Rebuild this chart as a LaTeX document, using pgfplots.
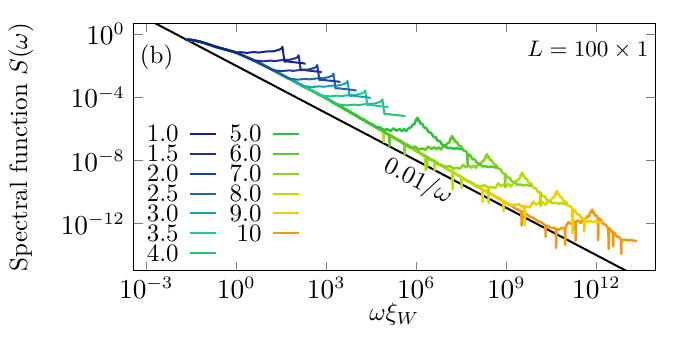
\documentclass[border=0pt]{standalone}
\usepackage{pgfplots}
\pgfplotsset{compat=1.18}

\definecolor{w10}{RGB}{22,32,140}
\definecolor{w15}{RGB}{28,48,152}
\definecolor{w20}{RGB}{30,62,160}
\definecolor{w25}{RGB}{30,104,172}
\definecolor{w30}{RGB}{26,162,184}
\definecolor{w35}{RGB}{30,200,160}
\definecolor{w40}{RGB}{34,196,118}
\definecolor{w50}{RGB}{46,192,64}
\definecolor{w60}{RGB}{88,204,32}
\definecolor{w70}{RGB}{136,212,32}
\definecolor{w80}{RGB}{184,220,16}
\definecolor{w90}{RGB}{240,208,0}
\definecolor{w100}{RGB}{245,152,16}

\begin{document}
\begin{tikzpicture}
\begin{axis}[
    scale only axis,
    width=208.8pt, height=99.2pt,
    xmin=-3.416, xmax=13.955,
    ymin=-15, ymax=0.70,
    xtick={-3,0,3,6,9,12},
    xticklabels={$10^{-3}$,$10^{0}$,$10^{3}$,$10^{6}$,$10^{9}$,$10^{12}$},
    ytick={-12,-8,-4,0},
    yticklabels={$10^{-12}$,$10^{-8}$,$10^{-4}$,$10^{0}$},
    ticklabel style={font=\fontsize{10.6}{12}\selectfont},
    xticklabel style={yshift=1pt},
    tick style={black!50, line width=0.5pt},
    major tick length=3.6pt,
    xlabel={$\omega\xi_W$},
    ylabel={Spectral function $S(\omega)$},
    xlabel style={at={(axis description cs:0.5,-0.175)}, anchor=center},
    ylabel style={at={(axis description cs:-0.2165,0.5)}, anchor=center},
    legend columns=2,
    legend plot pos=right,
    legend cell align=right,
    legend image code/.code={\path[draw=none,fill=none] (0pt,-1pt) rectangle (18.8pt,1pt);
      \draw[#1] (3.6pt,0pt) -- (14pt,0pt);},
    legend style={at={(axis description cs:0.006,0.617)}, anchor=north west,
      draw=none, fill=none, row sep=0pt, column sep=0pt,
      nodes={inner sep=0.8pt, text height=6.4pt, text depth=0pt}},
    every axis plot/.append style={line join=round},
]
% 0.01/omega
\addplot[black, line width=0.8pt, forget plot] coordinates {(-3.416,1.416) (13.955,-15.955)};

% W = 10
\addplot[w100, line width=1.0pt, forget plot] coordinates {
(-1.69,-0.33) (-1.45,-0.37) (-1.19,-0.48) (-0.95,-0.62) (-0.69,-0.79) (-0.35,-0.97) (0.00,-1.16)
(0.5,-1.58) (1.0,-2.05) (1.5,-2.55) (2.0,-3.05) (3.0,-4.05) (4.0,-5.165) (5.0,-6.28) (6.0,-7.395)
(7.0,-8.51) (8.0,-9.625) (8.6,-10.24) (9.0,-10.72) (9.15,-10.84) (9.3,-11.04) (9.5,-11.21) (9.51,-12.13)
(9.52,-11.25) (9.65,-11.37) (9.8,-11.57) (9.9,-11.64) (10.0,-11.78) (10.15,-11.91) (10.3,-12.11)
(10.31,-12.83) (10.32,-12.12) (10.36,-12.13) (10.48,-12.26) (10.61,-12.28) (10.65,-12.34) (10.66,-13.55)
(10.67,-12.34) (10.76,-12.38) (10.86,-12.26) (10.95,-12.32) (10.96,-13.35) (10.97,-12.26) (11.06,-11.92)
(11.16,-12.02) (11.26,-11.86) (11.30,-11.90) (11.31,-13.10) (11.32,-11.88) (11.41,-11.80) (11.48,-11.96)
(11.56,-11.78) (11.64,-11.74) (11.71,-11.52) (11.76,-11.54) (11.80,-11.28) (11.86,-11.11) (11.89,-11.34)
(11.91,-11.26) (11.96,-11.50) (12.01,-11.49) (12.05,-11.66) (12.06,-13.05) (12.07,-11.65) (12.16,-11.79)
(12.23,-12.02) (12.31,-12.07) (12.40,-12.30) (12.41,-13.60) (12.42,-12.30) (12.46,-12.34) (12.51,-12.52)
(12.55,-12.50) (12.56,-13.45) (12.57,-12.56) (12.61,-12.60) (12.68,-12.82) (12.76,-12.86) (12.82,-13.02)
(12.83,-13.92) (12.84,-13.00) (12.86,-13.04) (12.96,-13.02) (13.06,-13.07) (13.16,-13.04) (13.26,-13.09)
(13.36,-13.10)};

% W = 9
\addplot[w90, line width=1.0pt, forget plot] coordinates {
(-1.69,-0.33) (-1.45,-0.37) (-1.19,-0.48) (-0.95,-0.62) (-0.69,-0.79) (-0.35,-0.97) (0.00,-1.16)
(0.5,-1.58) (1.0,-2.05) (1.5,-2.55) (2.0,-3.05) (3.0,-4.05) (4.0,-5.16) (5.0,-6.27) (6.0,-7.38)
(7.0,-8.49) (7.5,-9.03) (7.7,-9.30) (7.9,-9.45) (8.05,-9.68) (8.2,-9.78) (8.21,-10.63) (8.22,-9.84)
(8.4,-10.00) (8.6,-10.27) (8.75,-10.36) (8.9,-10.58) (8.91,-11.23) (8.92,-10.55) (9.05,-10.74)
(9.19,-10.84) (9.31,-10.80) (9.44,-10.78) (9.52,-10.94) (9.60,-10.86) (9.61,-12.10) (9.62,-10.93)
(9.69,-10.92) (9.79,-10.98) (9.89,-10.60) (9.99,-10.80) (10.09,-10.65) (10.16,-10.80) (10.24,-10.65)
(10.31,-10.82) (10.39,-10.60) (10.47,-10.56) (10.54,-10.36) (10.59,-10.36) (10.63,-10.11) (10.69,-9.94)
(10.72,-10.16) (10.74,-10.09) (10.79,-10.32) (10.84,-10.32) (10.91,-10.58) (10.99,-10.62) (11.06,-10.88)
(11.14,-10.90) (11.20,-11.08) (11.21,-12.60) (11.22,-11.10) (11.29,-11.17) (11.36,-11.42) (11.44,-11.43)
(11.51,-11.68) (11.59,-11.69) (11.60,-12.50) (11.61,-11.72) (11.69,-11.87) (11.79,-11.84) (11.89,-11.90)
(11.99,-11.86) (12.09,-11.92) (12.19,-11.93)};

% W = 8
\addplot[w80, line width=1.0pt, forget plot] coordinates {
(-1.69,-0.33) (-1.45,-0.37) (-1.19,-0.48) (-0.95,-0.62) (-0.69,-0.79) (-0.35,-0.97) (0.00,-1.16)
(0.5,-1.58) (1.0,-2.05) (1.5,-2.55) (2.0,-3.05) (3.0,-4.05) (4.0,-5.155) (4.5,-5.71) (4.9,-6.15)
(4.91,-6.83) (4.92,-6.17) (5.5,-6.81) (6.0,-7.365) (6.15,-7.58) (6.3,-7.70) (6.31,-8.63) (6.32,-7.74)
(6.46,-7.94) (6.6,-8.03) (6.61,-8.63) (6.62,-8.08) (6.76,-8.28) (6.9,-8.36) (7.05,-8.58) (7.2,-8.69)
(7.21,-9.83) (7.22,-8.73) (7.36,-8.92) (7.5,-9.02) (7.51,-9.73) (7.52,-9.06) (7.66,-9.26) (7.8,-9.35)
(7.92,-9.54) (8.03,-9.61) (8.15,-9.62) (8.28,-9.58) (8.40,-9.72) (8.41,-10.70) (8.42,-9.69) (8.53,-9.70)
(8.63,-9.76) (8.73,-9.44) (8.83,-9.64) (8.93,-9.49) (9.00,-9.64) (9.08,-9.49) (9.15,-9.66) (9.23,-9.44)
(9.31,-9.40) (9.38,-9.20) (9.43,-9.20) (9.47,-8.95) (9.53,-8.78) (9.56,-9.00) (9.58,-8.93) (9.63,-9.16)
(9.68,-9.16) (9.75,-9.42) (9.83,-9.46) (9.90,-9.72) (9.98,-9.74) (10.05,-10.00) (10.13,-10.01)
(10.14,-10.90) (10.15,-10.04) (10.20,-10.26) (10.28,-10.27) (10.35,-10.52) (10.43,-10.53) (10.53,-10.71)
(10.63,-10.68) (10.73,-10.74) (10.83,-10.70) (10.93,-10.76) (11.03,-10.77)};

% W = 7
\addplot[w70, line width=1.0pt, forget plot] coordinates {
(-1.69,-0.33) (-1.45,-0.37) (-1.19,-0.48) (-0.95,-0.62) (-0.69,-0.79) (-0.35,-0.97) (0.00,-1.16)
(0.5,-1.58) (1.0,-2.05) (1.5,-2.55) (2.0,-3.05) (3.0,-4.05) (4.0,-5.15) (4.5,-5.70) (5.0,-6.25)
(5.15,-6.46) (5.3,-6.58) (5.45,-6.80) (5.6,-6.91) (5.61,-7.63) (5.62,-6.95) (5.76,-7.16) (5.9,-7.24)
(6.0,-7.42) (6.1,-7.46) (6.22,-7.66) (6.35,-7.735) (6.36,-8.48) (6.37,-7.78) (6.48,-7.94) (6.6,-8.01)
(6.73,-8.22) (6.86,-8.30) (6.98,-8.40) (7.11,-8.35) (7.24,-8.52) (7.36,-8.46) (7.46,-8.52) (7.56,-8.28)
(7.66,-8.44) (7.76,-8.32) (7.83,-8.46) (7.91,-8.32) (7.98,-8.46) (8.06,-8.28) (8.14,-8.22) (8.21,-8.04)
(8.26,-8.02) (8.30,-7.78) (8.36,-7.61) (8.39,-7.82) (8.41,-7.76) (8.46,-7.98) (8.51,-7.98) (8.58,-8.22)
(8.66,-8.28) (8.73,-8.52) (8.81,-8.56) (8.88,-8.80) (8.95,-8.84) (8.96,-9.70) (8.97,-8.86) (9.03,-9.06)
(9.11,-9.10) (9.18,-9.32) (9.26,-9.36) (9.36,-9.54) (9.46,-9.52) (9.56,-9.58) (9.66,-9.54) (9.76,-9.59)
(9.86,-9.60)};

% W = 6
\addplot[w60, line width=1.0pt, forget plot] coordinates {
(-1.69,-0.33) (-1.45,-0.37) (-1.19,-0.48) (-0.95,-0.62) (-0.69,-0.79) (-0.35,-0.97) (0.00,-1.16)
(0.5,-1.58) (1.0,-2.05) (1.5,-2.55) (2.0,-3.05) (2.5,-3.55) (3.0,-4.05) (3.5,-4.60) (4.0,-5.145)
(4.15,-5.36) (4.3,-5.47) (4.45,-5.68) (4.6,-5.80) (4.75,-6.02) (4.9,-6.13) (5.0,-6.30) (5.1,-6.35)
(5.11,-7.10) (5.12,-6.39) (5.28,-6.60) (5.45,-6.73) (5.58,-6.94) (5.70,-7.01) (5.82,-7.18) (5.95,-7.12)
(6.08,-7.30) (6.20,-7.24) (6.30,-7.32) (6.40,-7.12) (6.50,-7.28) (6.60,-7.16) (6.67,-7.30) (6.75,-7.16)
(6.82,-7.30) (6.90,-7.12) (6.98,-7.06) (7.05,-6.88) (7.10,-6.86) (7.14,-6.62) (7.20,-6.45) (7.23,-6.66)
(7.25,-6.60) (7.30,-6.82) (7.35,-6.82) (7.42,-7.06) (7.50,-7.12) (7.57,-7.36) (7.65,-7.40) (7.70,-7.55)
(7.71,-8.30) (7.72,-7.60) (7.80,-7.68) (7.87,-7.90) (7.95,-7.94) (8.02,-8.16) (8.10,-8.20) (8.20,-8.38)
(8.30,-8.36) (8.40,-8.42) (8.50,-8.38) (8.60,-8.43) (8.70,-8.44)};

% W = 5
\addplot[w50, line width=1.0pt, forget plot] coordinates {
(-1.69,-0.33) (-1.45,-0.37) (-1.19,-0.48) (-0.95,-0.62) (-0.69,-0.79) (-0.35,-0.97) (0.00,-1.16)
(0.5,-1.58) (1.0,-2.05) (1.5,-2.55) (2.0,-3.05) (2.25,-3.33) (2.5,-3.55) (2.75,-3.83) (3.0,-4.05)
(3.25,-4.37) (3.5,-4.60) (3.62,-4.78) (3.75,-4.87) (3.88,-5.06) (4.0,-5.14) (4.12,-5.32) (4.25,-5.41)
(4.38,-5.60) (4.54,-5.73) (4.66,-5.90) (4.79,-5.90) (4.91,-6.06) (5.04,-6.02) (5.14,-6.14) (5.24,-5.96)
(5.34,-6.12) (5.44,-6.00) (5.52,-6.14) (5.59,-6.00) (5.66,-6.14) (5.74,-5.96) (5.82,-5.90) (5.89,-5.72)
(5.94,-5.70) (5.98,-5.46) (6.04,-5.29) (6.07,-5.50) (6.09,-5.44) (6.14,-5.66) (6.19,-5.66) (6.26,-5.90)
(6.34,-5.96) (6.41,-6.20) (6.49,-6.24) (6.56,-6.48) (6.64,-6.52) (6.71,-6.74) (6.79,-6.78) (6.86,-7.00)
(6.94,-7.04) (7.04,-7.22) (7.14,-7.20) (7.24,-7.26) (7.34,-7.22) (7.44,-7.27) (7.54,-7.28)};

% W = 4
\addplot[w40, line width=0.8pt, forget plot] coordinates {
(-1.69,-0.33) (-1.45,-0.37) (-1.19,-0.48) (-0.95,-0.62) (-0.69,-0.79) (-0.35,-0.97) (0.00,-1.16)
(0.5,-1.58) (1.0,-2.05) (1.5,-2.55) (2.0,-3.05) (2.5,-3.55) (3.0,-4.05) (3.34,-4.41) (3.45,-4.46)
(3.57,-4.48) (3.69,-4.51) (3.81,-4.48) (3.93,-4.46) (4.07,-4.49) (4.19,-4.46) (4.30,-4.43) (4.41,-4.41)
(4.52,-4.42) (4.63,-4.38) (4.74,-4.32) (4.83,-4.25) (4.87,-4.12) (4.94,-5.07) (5.05,-5.05) (5.17,-5.09)
(5.29,-5.11) (5.42,-5.14) (5.53,-5.16) (5.64,-5.20)};

% W = 3.5
\addplot[w35, line width=0.8pt, forget plot] coordinates {
(-1.69,-0.33) (-1.45,-0.37) (-1.19,-0.48) (-0.95,-0.62) (-0.69,-0.79) (-0.35,-0.97) (0.00,-1.16)
(0.5,-1.58) (1.0,-2.05) (1.5,-2.55) (2.0,-3.05) (2.4,-3.45) (2.77,-3.82) (2.88,-3.89) (3.00,-3.91)
(3.12,-3.94) (3.24,-3.91) (3.36,-3.89) (3.50,-3.92) (3.62,-3.89) (3.73,-3.86) (3.84,-3.84) (3.95,-3.85)
(4.06,-3.81) (4.17,-3.75) (4.26,-3.68) (4.30,-3.55) (4.37,-4.50) (4.48,-4.48) (4.60,-4.52) (4.72,-4.54)
(4.85,-4.57) (4.96,-4.59) (5.07,-4.63)};

% W = 3
\addplot[w30, line width=0.8pt, forget plot] coordinates {
(-1.69,-0.33) (-1.45,-0.37) (-1.19,-0.48) (-0.95,-0.62) (-0.69,-0.79) (-0.35,-0.97) (0.00,-1.16)
(0.5,-1.58) (1.0,-2.05) (1.5,-2.55) (2.0,-3.05) (2.18,-3.23) (2.29,-3.30) (2.41,-3.32) (2.53,-3.35)
(2.65,-3.32) (2.77,-3.30) (2.91,-3.33) (3.03,-3.30) (3.14,-3.27) (3.25,-3.25) (3.36,-3.26) (3.47,-3.22)
(3.58,-3.16) (3.67,-3.09) (3.71,-2.96) (3.78,-3.91) (3.89,-3.89) (4.01,-3.93) (4.13,-3.95) (4.26,-3.98)
(4.37,-4.00) (4.48,-4.04)};

% W = 2.5
\addplot[w25, line width=0.8pt, forget plot] coordinates {
(-1.69,-0.33) (-1.45,-0.37) (-1.19,-0.48) (-0.95,-0.62) (-0.69,-0.79) (-0.35,-0.97) (0.00,-1.16)
(0.5,-1.58) (1.0,-2.05) (1.5,-2.55) (1.71,-2.76) (1.82,-2.83) (1.94,-2.85) (2.06,-2.88) (2.18,-2.85)
(2.30,-2.83) (2.44,-2.86) (2.56,-2.83) (2.67,-2.80) (2.78,-2.78) (2.89,-2.79) (3.00,-2.75) (3.11,-2.69)
(3.20,-2.62) (3.24,-2.49) (3.31,-3.44) (3.42,-3.42) (3.54,-3.46) (3.66,-3.48) (3.79,-3.51) (3.90,-3.53)
(4.01,-3.57)};

% W = 2
\addplot[w20, line width=0.8pt, forget plot] coordinates {
(-1.69,-0.33) (-1.45,-0.37) (-1.19,-0.48) (-0.95,-0.62) (-0.69,-0.79) (-0.35,-0.97) (0.00,-1.16)
(0.5,-1.58) (1.0,-2.05) (1.17,-2.22) (1.28,-2.29) (1.40,-2.31) (1.52,-2.34) (1.64,-2.31) (1.76,-2.29)
(1.90,-2.32) (2.02,-2.29) (2.13,-2.26) (2.24,-2.24) (2.35,-2.25) (2.46,-2.21) (2.57,-2.15) (2.66,-2.08)
(2.70,-1.95) (2.77,-2.90) (2.88,-2.88) (3.00,-2.92) (3.12,-2.94) (3.25,-2.97) (3.36,-2.99) (3.47,-3.03)};

% W = 1.5
\addplot[w15, line width=0.8pt, forget plot] coordinates {
(-1.69,-0.33) (-1.45,-0.37) (-1.19,-0.48) (-0.95,-0.62) (-0.69,-0.79) (-0.35,-0.97) (0.00,-1.16)
(0.28,-1.40) (0.55,-1.63) (0.66,-1.67) (0.78,-1.69) (0.90,-1.72) (1.02,-1.69) (1.14,-1.67) (1.28,-1.70)
(1.40,-1.67) (1.51,-1.64) (1.62,-1.62) (1.73,-1.63) (1.84,-1.59) (1.95,-1.53) (2.04,-1.46) (2.08,-1.33)
(2.15,-2.28) (2.26,-2.26) (2.38,-2.30) (2.50,-2.32) (2.63,-2.35) (2.74,-2.37) (2.85,-2.41)};

% W = 1
\addplot[w10, line width=0.8pt, forget plot] coordinates {
(-1.69,-0.33) (-1.45,-0.37) (-1.19,-0.48) (-0.95,-0.62) (-0.69,-0.79) (-0.35,-0.97) (0.01,-1.17)
(0.12,-1.13) (0.24,-1.15) (0.36,-1.18) (0.48,-1.15) (0.60,-1.13) (0.74,-1.16) (0.86,-1.13) (0.97,-1.10)
(1.08,-1.08) (1.19,-1.09) (1.30,-1.05) (1.41,-0.99) (1.50,-0.92) (1.54,-0.79) (1.61,-1.74) (1.72,-1.72)
(1.84,-1.76) (1.96,-1.78) (2.09,-1.81) (2.20,-1.83) (2.31,-1.87)};

% legend, filled row by row
\addlegendimage{w10, line width=0.8pt}  \addlegendentry{1.0}
\addlegendimage{w50, line width=0.8pt}  \addlegendentry{5.0}
\addlegendimage{w15, line width=0.8pt}  \addlegendentry{1.5}
\addlegendimage{w60, line width=0.8pt}  \addlegendentry{6.0}
\addlegendimage{w20, line width=0.8pt}  \addlegendentry{2.0}
\addlegendimage{w70, line width=0.8pt}  \addlegendentry{7.0}
\addlegendimage{w25, line width=0.8pt}  \addlegendentry{2.5}
\addlegendimage{w80, line width=0.8pt}  \addlegendentry{8.0}
\addlegendimage{w30, line width=0.8pt}  \addlegendentry{3.0}
\addlegendimage{w90, line width=0.8pt}  \addlegendentry{9.0}
\addlegendimage{w35, line width=0.8pt}  \addlegendentry{3.5}
\addlegendimage{w100, line width=0.8pt} \addlegendentry{10}
\addlegendimage{w40, line width=0.8pt}  \addlegendentry{4.0}

\node at (axis description cs:0.044,0.863) {(b)};
\node[anchor=east, font=\small] at (axis description cs:1.004,0.891) {$L = 100\times 1$};
\node[rotate=-27.6] at (axis description cs:0.545,0.36) {$0.01/\omega$};
\end{axis}
\path ([xshift=-53.2pt,yshift=-31.2pt]current axis.south west)
  rectangle ([xshift=17.2pt,yshift=9.3pt]current axis.north east);
\end{tikzpicture}
\end{document}
